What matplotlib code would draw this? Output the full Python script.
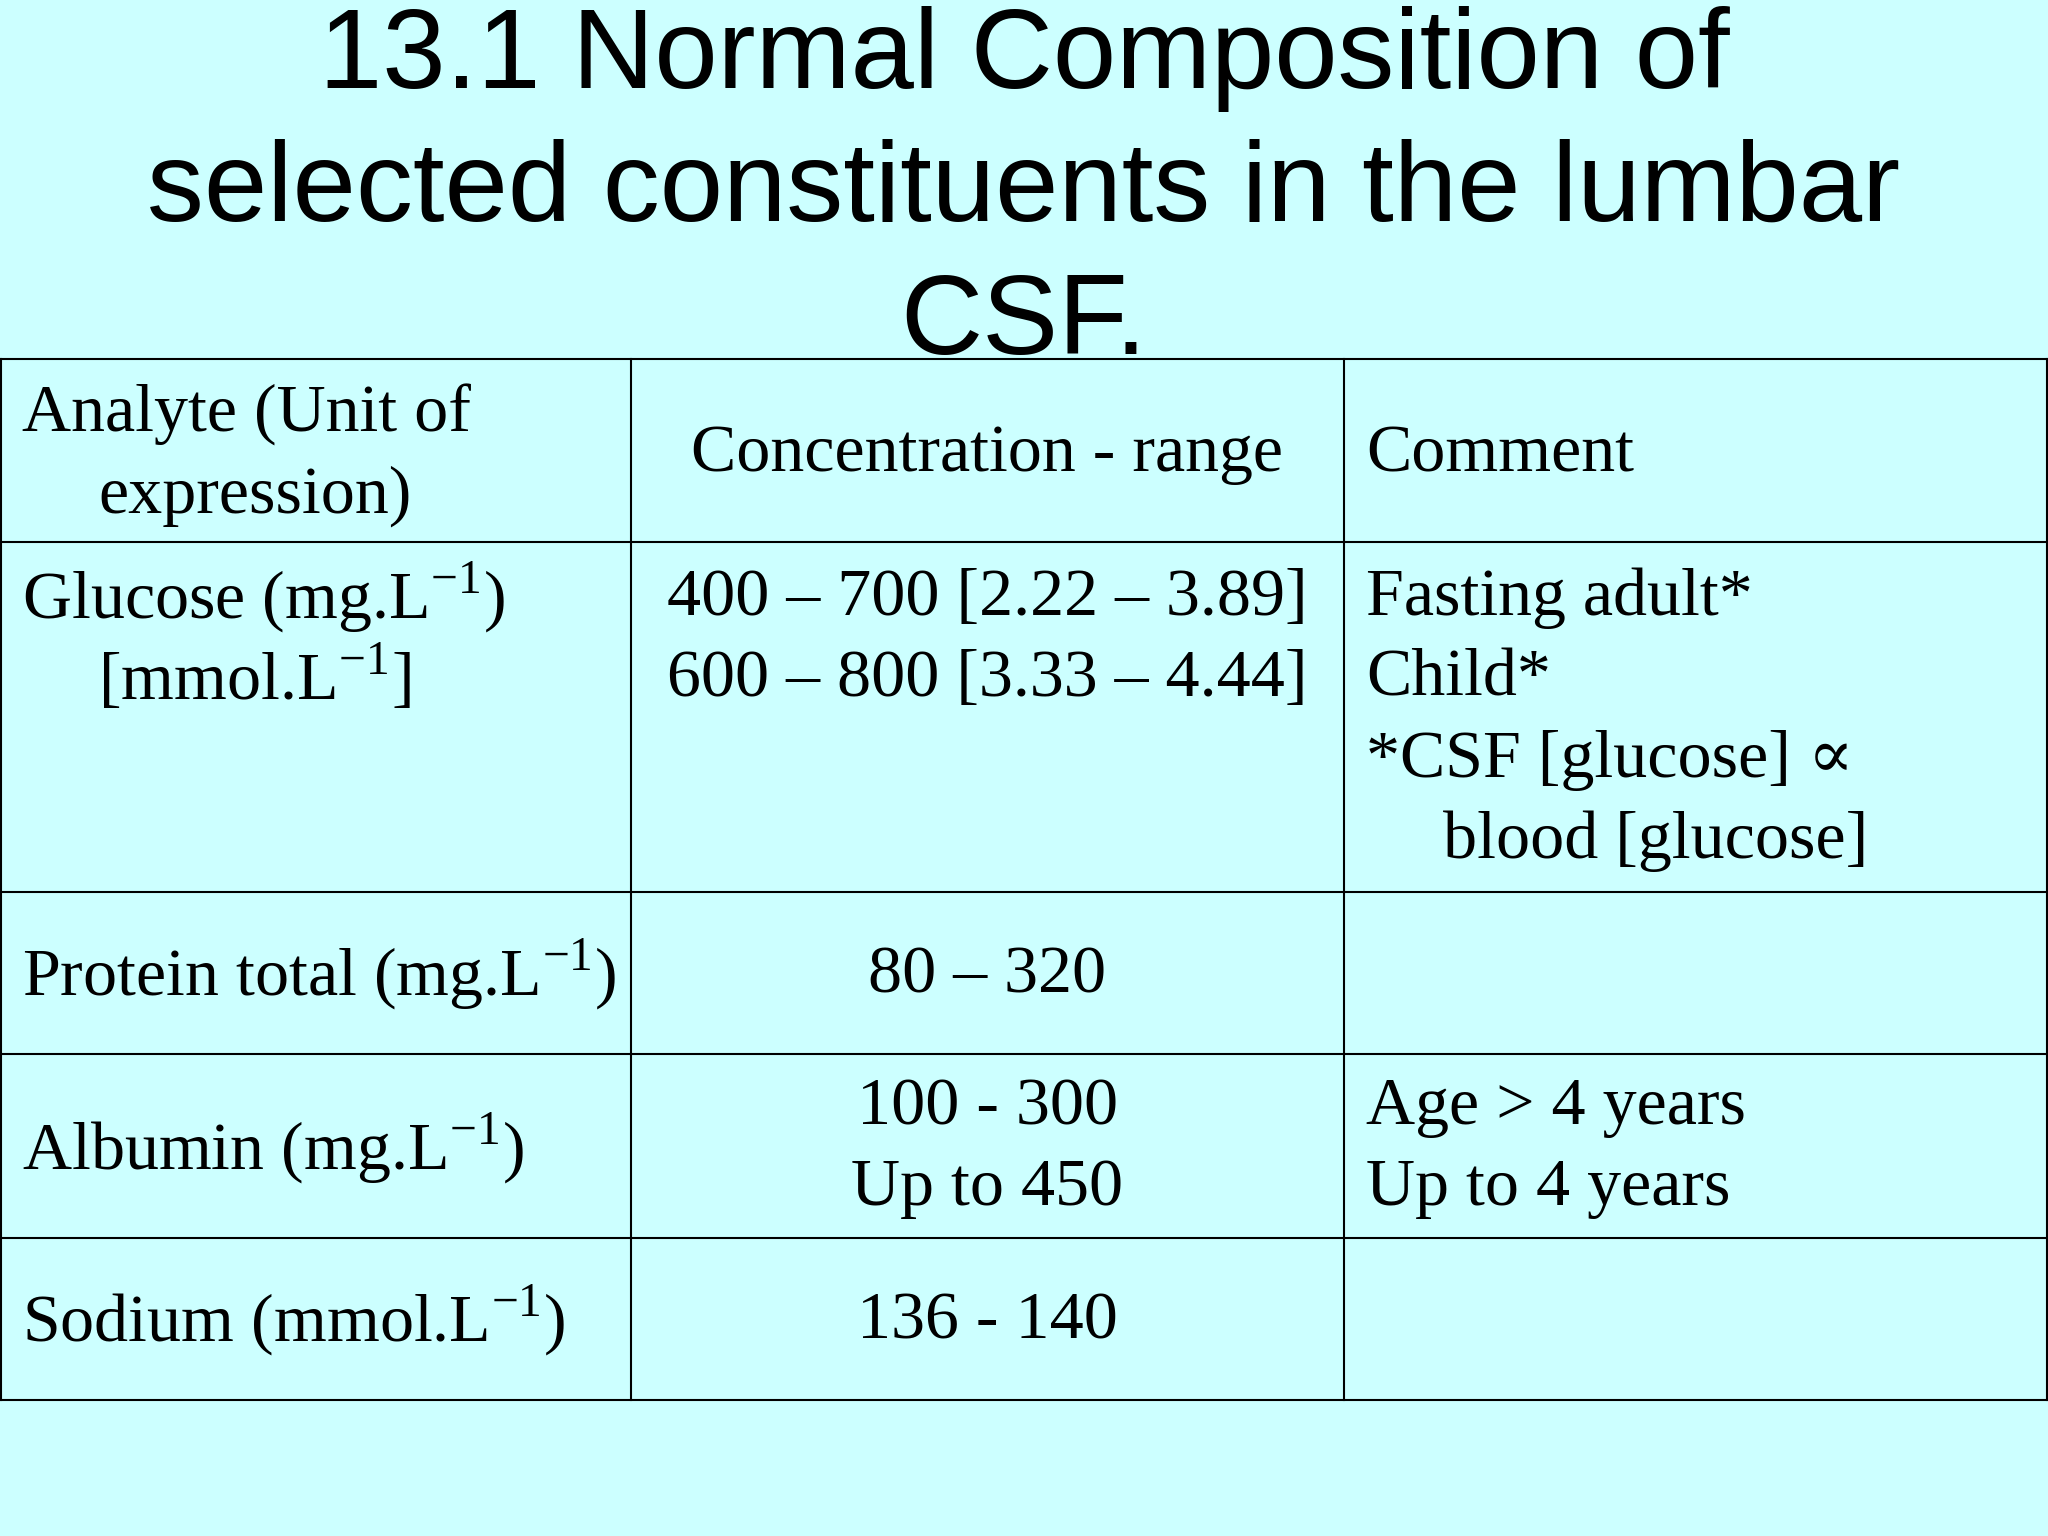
import matplotlib
matplotlib.use("Agg")
import matplotlib.pyplot as plt
from matplotlib.lines import Line2D

plt.rcParams['mathtext.fontset'] = 'custom'
plt.rcParams['mathtext.rm'] = 'Liberation Serif'

W, H = 1568.0, 1176.0
title_lines = ["13.1 Normal Composition of", "selected constituents in the lumbar", "CSF."]
col_x = [1, 483, 1029, 1567]
row_y = [275, 415, 683, 807, 948, 1072]
S = r"$^{\mathrm{-1}}$"
col1 = [["Analyte (Unit of", ">expression)"],
        ["Glucose (mg.L" + S + ")", ">[mmol.L" + S + "]"],
        ["Protein total (mg.L" + S + ")"],
        ["Albumin (mg.L" + S + ")"],
        ["Sodium (mmol.L" + S + ")"]]
col2 = [["Concentration - range"],
        ["400 – 700 [2.22 – 3.89]", "600 – 800 [3.33 – 4.44]"],
        ["80 – 320"],
        ["100 - 300", "Up to 450"],
        ["136 - 140"]]
col3 = [["Comment"],
        ["Fasting adult*", "Child*", "*CSF [glucose] ∝", ">blood [glucose]"],
        [],
        ["Age > 4 years", "Up to 4 years"],
        []]

fig = plt.figure(figsize=(20.48, 15.36), dpi=100)
fig.patch.set_facecolor('#ccffff')
fx = lambda x: x / W
fy = lambda y: 1 - y / H

for i, t in enumerate(title_lines):
    fig.text(0.5, fy(45 + 102 * i), t, ha='center', va='center',
             fontsize=82, family='Liberation Sans')

for x in col_x:
    fig.add_artist(Line2D([fx(x)] * 2, [fy(row_y[0]), fy(row_y[-1])], color='black', lw=1.5))
for y in row_y:
    fig.add_artist(Line2D([fx(col_x[0]), fx(col_x[-1])], [fy(y)] * 2, color='black', lw=1.5))

fam = ['Liberation Serif', 'DejaVu Serif']
fs = 49
sp = 62

def put(x, xind, y, t, ha):
    if t.startswith('>'):
        x, t = xind, t[1:]
    fig.text(fx(x), fy(y), t, ha=ha, va='center', fontsize=fs, family=fam)

first = {0: [318, 348, 348], 1: [458, 458, 458], 2: [747, 747, 747], 3: [880, 848, 848], 4: [1012, 1012, 1012]}
for r in range(5):
    y0 = first[r]
    for k, t in enumerate(col1[r]):
        put(17, 75, y0[0] + sp * k, t, 'left')
    for k, t in enumerate(col2[r]):
        put(756, 756, y0[1] + sp * k, t, 'center')
    for k, t in enumerate(col3[r]):
        put(1046, 1105, y0[2] + sp * k, t, 'left')

fig.savefig("out.png", dpi=100, facecolor=fig.get_facecolor())
